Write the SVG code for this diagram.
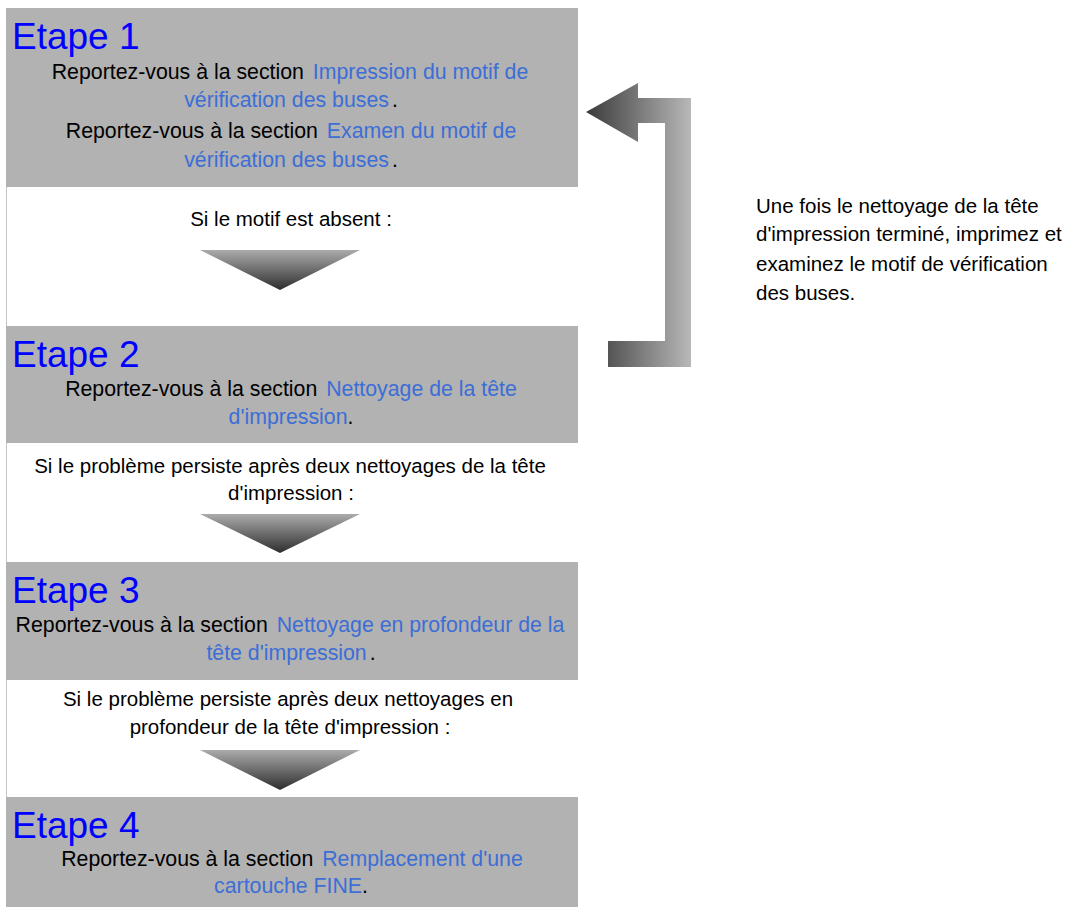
<svg xmlns="http://www.w3.org/2000/svg" width="1075" height="907" viewBox="0 0 1075 907">
  <style>
    text { font-family: "Liberation Sans", Arial, sans-serif; fill: #000; }
    .box { fill: #b2b2b2; }
    .step { font-size: 37px; fill: #0000ff; }
    .body { font-size: 21.3px; }
    .plain { font-size: 20.5px; }
    .lk { fill: #3c6ed6; }
  </style>
  <defs>
    <linearGradient id="tri" x1="0" y1="0" x2="0" y2="1">
      <stop offset="0" stop-color="#ababab"/>
      <stop offset="1" stop-color="#2e2e2e"/>
    </linearGradient>
    <linearGradient id="ret" gradientUnits="userSpaceOnUse" x1="586" y1="0" x2="691" y2="0">
      <stop offset="0" stop-color="#3a3a3a"/>
      <stop offset="1" stop-color="#b8b8b8"/>
    </linearGradient>
  </defs>
  <rect x="0" y="0" width="1075" height="907" fill="#ffffff"/>
  <line x1="6.5" y1="187" x2="6.5" y2="797" stroke="#c4c4c4" stroke-width="1"/>

  <g id="step1">
    <rect class="box" x="6" y="8" width="572" height="179"/>
    <text class="step" x="12" y="49">Etape 1</text>
    <text class="body" x="290" y="79" text-anchor="middle">Reportez-vous à la section<tspan class="lk" dx="3"> Impression du motif de</tspan></text>
    <text class="body" x="291" y="107" text-anchor="middle"><tspan class="lk">vérification des buses</tspan><tspan dx="3">.</tspan></text>
    <text class="body" x="291" y="138" text-anchor="middle">Reportez-vous à la section<tspan class="lk" dx="3"> Examen du motif de</tspan></text>
    <text class="body" x="291" y="167" text-anchor="middle"><tspan class="lk">vérification des buses</tspan><tspan dx="3">.</tspan></text>
  </g>

  <g id="cond1">
    <text class="plain" x="291" y="226" text-anchor="middle">Si le motif est absent :</text>
  </g>

  <g id="step2">
    <rect class="box" x="6" y="326" width="572" height="117"/>
    <text class="step" x="12" y="367">Etape 2</text>
    <text class="body" x="291" y="396" text-anchor="middle">Reportez-vous à la section<tspan class="lk" dx="3"> Nettoyage de la tête</tspan></text>
    <text class="body" x="291" y="424" text-anchor="middle"><tspan class="lk">d'impression</tspan><tspan>.</tspan></text>
  </g>

  <g id="cond2">
    <text class="plain" x="290" y="473" text-anchor="middle">Si le problème persiste après deux nettoyages de la tête</text>
    <text class="plain" x="291" y="500" text-anchor="middle">d'impression :</text>
  </g>

  <g id="step3">
    <rect class="box" x="6" y="562" width="572" height="118"/>
    <text class="step" x="12" y="603">Etape 3</text>
    <text class="body" x="290" y="632" text-anchor="middle">Reportez-vous à la section<tspan class="lk" dx="3"> Nettoyage en profondeur de la</tspan></text>
    <text class="body" x="291" y="660" text-anchor="middle"><tspan class="lk">tête d'impression</tspan><tspan dx="3">.</tspan></text>
  </g>

  <g id="cond3">
    <text class="plain" x="288" y="706" text-anchor="middle">Si le problème persiste après deux nettoyages en</text>
    <text class="plain" x="290" y="734" text-anchor="middle">profondeur de la tête d'impression :</text>
  </g>

  <g id="step4">
    <rect class="box" x="6" y="797" width="572" height="110"/>
    <text class="step" x="12" y="838">Etape 4</text>
    <text class="body" x="292" y="866" text-anchor="middle">Reportez-vous à la section<tspan class="lk" dx="3"> Remplacement d'une</tspan></text>
    <text class="body" x="291" y="893" text-anchor="middle"><tspan class="lk">cartouche FINE</tspan><tspan>.</tspan></text>
  </g>

  <g id="note">
    <text class="plain" x="756" y="213">Une fois le nettoyage de la tête</text>
    <text class="plain" x="756" y="241">d'impression terminé, imprimez et</text>
    <text class="plain" x="756" y="271">examinez le motif de vérification</text>
    <text class="plain" x="756" y="300">des buses.</text>
  </g>

  <g id="connectors">
    <polygon points="200,250 360,250 280,290" fill="url(#tri)"/>
    <polygon points="200,514 360,514 280,553" fill="url(#tri)"/>
    <polygon points="200,750 360,750 280,790" fill="url(#tri)"/>
    <polygon points="586,112 638,83 638,98 691,98 691,367 608,367 608,341 665,341 665,123 638,123 638,142" fill="url(#ret)"/>
  </g>
</svg>
